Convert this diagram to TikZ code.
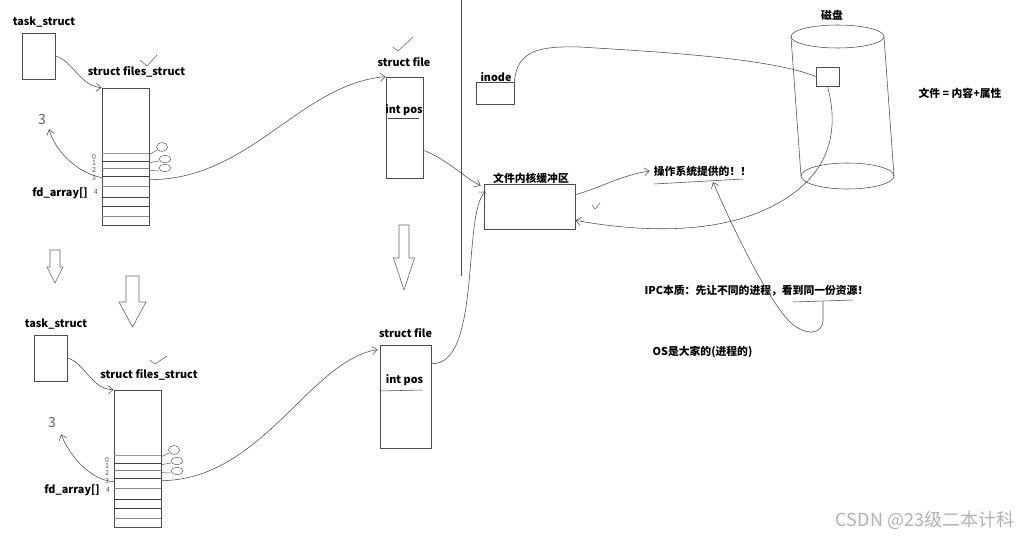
\documentclass[tikz,border=0pt]{standalone}
\usepackage{fontspec}
\setmainfont{Noto Sans CJK SC}
\usetikzlibrary{arrows.meta,calc}

\tikzset{
  lbl/.style={font=\bfseries\fontsize{10.8}{12}\selectfont, inner sep=0pt},
  membox/.style={draw=black!70, line width=0.7pt, inner sep=0pt},
  rowline/.style={line width=0.6pt},
  pen/.style={draw=black!70, line width=0.55pt},
  link/.style={pen, -{Straight Barb[length=5pt,width=8pt]}},
  digit/.style={font=\fontsize{7}{7}\selectfont, text=black!65, inner sep=0pt},
  hand/.style={font=\fontsize{14}{14}\selectfont, text=black!60, inner sep=0pt},
  blockarrow/.style={draw=black!60, line width=0.6pt},
  checkmk/.style={pen, line width=0.45pt},
}

\begin{document}
\begin{tikzpicture}[x=1pt, y=-1pt]
  \useasboundingbox[fill=white] (0,0) rectangle (1026,538);

  % upper process
  \node[lbl] (taskAlbl) at (44,22) {task\_struct};
  \node[membox, minimum width=33pt, minimum height=46pt] (taskA) at (38.5,56) {};
  \node[lbl] (fsAlbl) at (136.5,72) {struct files\_struct};
  \node[membox, minimum width=47pt, minimum height=137pt] (fsA) at (125.5,156.5) {};
  \node[lbl] (fdAlbl) at (60,193) {fd\_array[]};
  \node[hand] (threeA) at (42,120) {3};

  % lower process
  \node[lbl] (taskBlbl) at (56,324) {task\_struct};
  \node[membox, minimum width=33pt, minimum height=46pt] (taskB) at (50.5,358) {};
  \node[lbl] (fsBlbl) at (149,375) {struct files\_struct};
  \node[membox, minimum width=47pt, minimum height=137pt] (fsB) at (137.5,458.5) {};
  \node[lbl] (fdBlbl) at (72,490) {fd\_array[]};
  \node[hand] (threeB) at (52,423) {3};

  % fd rows
  \foreach \b in {fsA,fsB}
    \foreach \d/\c in {66/black!40, 74/black!75, 81/black!50, 89/black!75, 99/black!45, 110/black!75, 119/black!75, 129/black!45}
      \draw[rowline, draw=\c] ([yshift=-\d pt]\b.north west) -- ([yshift=-\d pt]\b.north east);

  % fd numbers
  \foreach \t/\x/\y [count=\i] in {0/94/157, 1/94/163, 2/94/170, 3/94/178, 4/96/192}
    \node[digit] (dA\i) at (\x,\y) {\t};
  \foreach \t/\x/\y [count=\i] in {0/107/460, 1/107/466, 2/107/473, 3/107/481, 4/108/490}
    \node[digit] (dB\i) at (\x,\y) {\t};

  % stdin/stdout/stderr ovals
  \foreach \x/\y/\r/\s [count=\i] in {162/147/5.5/4.5, 165/159/6/3.5, 165/168/6/3.5,
                                       174/450/5.5/4.5, 177/461/6/3.5, 177/471/6/3.5}
    \draw[pen, line width=0.45pt] (\x,\y) ellipse [x radius=\r, y radius=\s];
  \draw[pen, line width=0.45pt] ([yshift=-67pt]fsA.north east) -- (157,150);
  \draw[pen, line width=0.45pt] ([yshift=-75pt]fsA.north east) -- (159,161);
  \draw[pen, line width=0.45pt] ([yshift=-83pt]fsA.north east) -- (159,170);
  \draw[pen, line width=0.45pt] ([yshift=-67pt]fsB.north east) -- (169,453);
  \draw[pen, line width=0.45pt] ([yshift=-75pt]fsB.north east) -- (171,463);
  \draw[pen, line width=0.45pt] ([yshift=-83pt]fsB.north east) -- (171,473);

  % struct file objects
  \node[lbl] (fileAlbl) at (404,62) {struct file};
  \node[membox, minimum width=37pt, minimum height=101pt] (fileA) at (404.5,127.5) {};
  \node[lbl] (posA) at (404,110) {int pos};
  \draw[pen] (388,118) -- (419,118);
  \node[lbl] (fileBlbl) at (405.5,333) {struct file};
  \node[membox, minimum width=51pt, minimum height=103pt] (fileB) at (405.5,396.5) {};
  \node[lbl] (posB) at (404.5,380) {int pos};
  \draw[pen] (fileB.west |- 0,391) -- (422,390);

  % block arrows
  \foreach \x/\t/\n/\e/\s/\h in {55/250/267/283/5/8, 132.5/276/302/327/6.5/13.5, 404/225/258/290/5/10.5}
    \draw[blockarrow] (\x-\s,\t) -- (\x+\s,\t) -- (\x+\s,\n) -- (\x+\h,\n) -- (\x,\e)
      -- (\x-\h,\n) -- (\x-\s,\n) -- cycle;

  % divider
  \draw[pen] (461,0) -- (461,276);

  % kernel side
  \node[lbl] (inodelbl) at (496,77) {inode};
  \node[membox, minimum width=38pt, minimum height=22pt] (inode) at (495,93) {};
  \node[lbl] (buflbl) at (531,178) {文件内核缓冲区};
  \node[membox, minimum width=91pt, minimum height=45pt] (bufA) at (529.5,206.5) {};

  % disk
  \node[lbl] (disklbl) at (832,15) {磁盘};
  \draw[pen] (837.5,36.5) ellipse [x radius=46.5, y radius=11.5];
  \draw[pen] (847.5,176) ellipse [x radius=46.5, y radius=13];
  \draw[pen] (791,37) -- (801,176);
  \draw[pen] (884,37) -- (894,176);
  \node[membox, minimum width=23pt, minimum height=19pt] (diskbox) at (827.5,76.5) {};
  \node[lbl] (formula) at (960,93) {文件 = 内容+属性};

  % notes
  \node[lbl] (osprov) at (702.5,171) {操作系统提供的！！};
  \coordinate (osline) at (713,182);
  \draw[pen] (654,184) -- (743,179);
  \node[lbl] (ipc) at (756.5,291) {IPC本质：先让不同的进程，看到同一份资源！};
  \coordinate (ipcline) at (823,302);
  \draw[pen] (793,302) -- (853,300);
  \node[lbl] (osall) at (702.5,352) {OS是大家的(进程的)};
  \node[font=\fontsize{18}{18}\selectfont, text=black!30, inner sep=0pt] (mark) at (925,520) {CSDN @23级二本计科};

  % links
  \draw[link] (taskA.east) .. controls (72,60) and (80,86) .. (fsA.north west);
  \draw[link] (taskB.east) .. controls (84,362) and (92,390) .. (fsB.north west);
  \draw[link] ([yshift=-90pt]fsA.north west) .. controls (75,172) and (55,150) .. ([xshift=3pt,yshift=-4pt]threeA.south east);
  \draw[link] ([yshift=-92pt]fsB.north west) .. controls (88,480) and (68,452) .. ([xshift=5pt,yshift=-6pt]threeB.south east);
  \draw[link] ([yshift=-92pt]fsA.north east) .. controls (250,180) and (300,84) .. (fileA.north west);
  \draw[link] ([yshift=-91pt]fsB.north east) .. controls (262,480) and (310,360) .. ([xshift=-2pt,yshift=-5pt]fileB.north west);
  \draw[link] ([yshift=28pt]fileA.south east) .. controls (445,158) and (465,178) .. ([xshift=-3pt,yshift=-2pt]bufA.north west);
  \draw[link] ([yshift=-19pt]fileB.north east) .. controls (482,366) and (462,212) .. ([xshift=2pt,yshift=-8pt]bufA.north west);
  \draw[pen] (inode.north east) .. controls (517,50) and (540,46) .. (580,47)
    .. controls (660,52) and (770,58) .. (diskbox.west);
  \draw[link] (diskbox.south) .. controls (842,140) and (822,178) .. (780,202)
    .. controls (722,236) and (640,232) .. ([yshift=9pt]bufA.south east);
  \draw[link] ([yshift=-11pt]bufA.north east) .. controls (600,188) and (622,175) .. ([xshift=-4pt]osprov.west);
  \draw[link] (ipcline) -- (823,318) .. controls (824,336) and (805,336) .. (790,322)
    .. controls (770,302) and (738,240) .. (osline);

  % check marks
  \draw[checkmk] (140,60) -- (147,66) -- (157,55);
  \draw[checkmk] (150,360) -- (155,364) -- (167,356);
  \draw[checkmk] (393,47) -- (398,51) -- (413,37);
  \draw[checkmk] (592,205) -- (595,209) -- (600,203);
\end{tikzpicture}
\end{document}
